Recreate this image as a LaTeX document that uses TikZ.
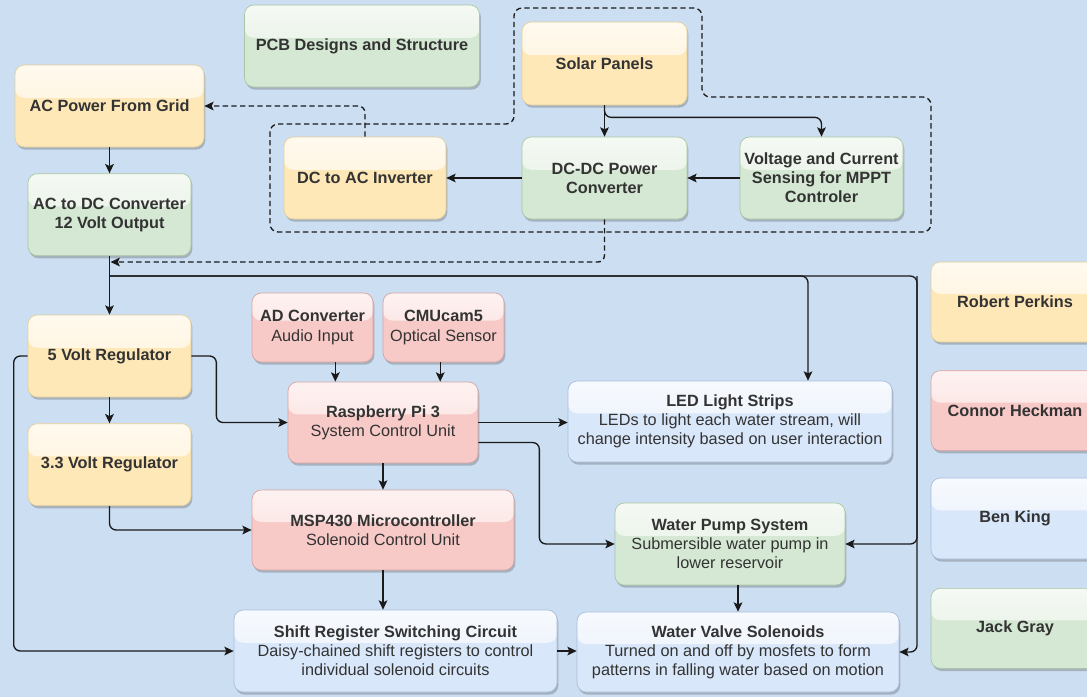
\documentclass[tikz,border=0pt]{standalone}
\usepackage{fontspec}
\setmainfont{Liberation Sans}
\usetikzlibrary{arrows.meta, positioning, calc, shadows}

\definecolor{bg}{HTML}{CCDEF1}
\definecolor{txt}{HTML}{333333}
\definecolor{lnk}{HTML}{1A1A1A}
\definecolor{yelfill}{HTML}{FFE8B8}
\definecolor{yelglass}{HTML}{FFF0D2}
\definecolor{yelline}{HTML}{E3CF9A}
\definecolor{grnfill}{HTML}{D5E8D3}
\definecolor{grnglass}{HTML}{E1EEDF}
\definecolor{grnline}{HTML}{A9C6A4}
\definecolor{redfill}{HTML}{F7CAC8}
\definecolor{redglass}{HTML}{FADAD8}
\definecolor{redline}{HTML}{D9A3A1}
\definecolor{blufill}{HTML}{D9E7FA}
\definecolor{bluglass}{HTML}{E7EFFB}
\definecolor{bluline}{HTML}{A9BEDD}

\begin{document}
\begin{tikzpicture}[
    x=0.75pt, y=-0.75pt,
    blk/.style={draw=#1line, fill=#1fill, line width=0.5pt, rounded corners=7pt,
        align=center, text=txt, inner sep=2pt,
        font=\fontsize{12.2}{14.3}\selectfont,
        drop shadow={shadow xshift=1pt, shadow yshift=-2pt, opacity=0.3, fill=black!70},
        path picture={\shade[top color=#1glass!35!white, bottom color=#1glass]
            (path picture bounding box.north west) rectangle
            ($(path picture bounding box.east)!0.2!(path picture bounding box.north east)$);}},
    sz/.style 2 args={minimum width=#1*0.75pt, minimum height=#2*0.75pt},
    link/.style={draw=lnk, line width=1pt, rounded corners=5pt},
    arr/.style={link, -{Stealth[length=7pt, width=6.5pt, inset=1.5pt]}},
    dsh/.style={link, dash pattern=on 4pt off 2.5pt}
]

\useasboundingbox (0,0) rectangle (1087,697);
\fill[bg] (0,0) rectangle (1087,697);

% power side
\node[blk=grn, sz={235}{82}] (pcb) at (362,46) {\textbf{PCB Designs and Structure}};
\node[blk=yel, sz={189}{82}] (grid) at (109.5,106) {\textbf{AC Power From Grid}};
\node[blk=grn, sz={163}{82}] (acdc) [below=19.5pt of grid] {\textbf{AC to DC Converter}\\\textbf{12 Volt Output}};
\node[blk=yel, sz={165}{83}] (solar) at (604.5,63.5) {\textbf{Solar Panels}};
\node[blk=yel, sz={162}{82}] (inv) at (365,178) {\textbf{DC to AC Inverter}};
\node[blk=grn, sz={165}{82}] (dcdc) at (604.5,178) {\textbf{DC-DC Power}\\\textbf{Converter}};
\node[blk=grn, sz={163}{82}] (mppt) at (821.5,178) {\textbf{Voltage and Current}\\\textbf{Sensing for MPPT}\\\textbf{Controler}};

% control side
\node[blk=yel, sz={163}{82}] (fivev) at (109.5,356) {\textbf{5 Volt Regulator}};
\node[blk=yel, sz={163}{82}] (threev) [below=19.5pt of fivev] {\textbf{3.3 Volt Regulator}};
\node[blk=red, sz={121}{69}] (adc) at (312.5,327.5) {\textbf{AD Converter}\\Audio Input};
\node[blk=red, sz={121}{69}] (cam) at (443.5,327.5) {\textbf{CMUcam5}\\Optical Sensor};
\node[blk=red, sz={190}{81}] (rpi) at (383,422.5) {\textbf{Raspberry Pi 3}\\System Control Unit};
\node[blk=blu, sz={324}{81}] (led) at (730,421.5) {\textbf{LED Light Strips}\\LEDs to light each water stream, will\\change intensity based on user interaction};
\node[blk=red, sz={262}{80}] (msp) at (383,530) {\textbf{MSP430 Microcontroller}\\Solenoid Control Unit};
\node[blk=grn, sz={230}{82}] (pump) at (730,544) {\textbf{Water Pump System}\\Submersible water pump in\\lower reservoir};
\node[blk=blu, sz={323}{82}] (shift) at (395.5,651) {\textbf{Shift Register Switching Circuit}\\Daisy-chained shift registers to control\\individual solenoid circuits};
\node[blk=blu, sz={322}{80}] (valve) at (738,652) {\textbf{Water Valve Solenoids}\\Turned on and off by mosfets to form\\patterns in falling water based on motion};

% team
\node[blk=yel, sz={168}{80}] (rp) at (1015,302) {\textbf{Robert Perkins}};
\node[blk=red, sz={168}{80}] (ch) [below=21pt of rp] {\textbf{Connor Heckman}};
\node[blk=blu, sz={168}{81}] (bk) [below=20pt of ch] {\textbf{Ben King}};
\node[blk=grn, sz={168}{80}] (jg) [below=21.5pt of bk] {\textbf{Jack Gray}};

% solar group
\draw[dsh, rounded corners=6pt] (270,124) -- (514,124) -- (514,8) -- (702,8) -- (702,97)
    -- (931,97) -- (931,232) -- (270,232) -- cycle;

\draw[arr] (grid) -- (acdc);
\draw[arr] (solar) -- (dcdc);
\draw[arr] (solar.south) -- ++(0,12) -| (mppt.north);
\draw[arr] (mppt) -- (dcdc);
\draw[arr] (dcdc) -- (inv);
\draw[arr, dsh] (inv.north) |- (grid.east);
\coordinate (dtip) at ($(acdc.south)+(1,6)$);
\draw[arr, dsh] (dcdc.south) |- (dtip);

% 12 V bus
\coordinate (busl) at ($(acdc.south)+(0,20)$);
\coordinate (busr) at (busl -| 917,0);
\draw[arr] (acdc) -- (fivev);
\draw[arr] (busl) -- (busr) |- (valve.east);
\draw[arr] (busr) |- (pump.east);
\draw[arr] (busl) -| ($(led.north)+(78,0)$);

\draw[arr] (fivev) -- (threev);
\draw[arr] (fivev.east) -- ++(25,0) |- (rpi.west);
\draw[arr] (fivev.west) -- ++(-14,0) |- (shift.west);
\draw[arr] (threev.south) |- (msp.west);

\coordinate (rpia) at ($(rpi.north west)!.25!(rpi.north east)$);
\coordinate (rpib) at ($(rpi.north west)!.8!(rpi.north east)$);
\draw[arr] (adc.south -| rpia) -- (rpia);
\draw[arr] (cam.south -| rpib) -- (rpib);
\draw[arr] (rpi) -- (msp);
\draw[arr] (rpi.east) -- (rpi.east -| led.west);
\draw[arr] ($(rpi.east)+(0,20)$) -- ++(61,0) |- (pump.west);
\draw[arr] (msp.south) -- (msp.south |- shift.north);
\draw[arr] (valve.north |- pump.south) -- (valve.north);
\draw[arr] (shift.east) -- (shift.east -| valve.west);

\end{tikzpicture}
\end{document}
